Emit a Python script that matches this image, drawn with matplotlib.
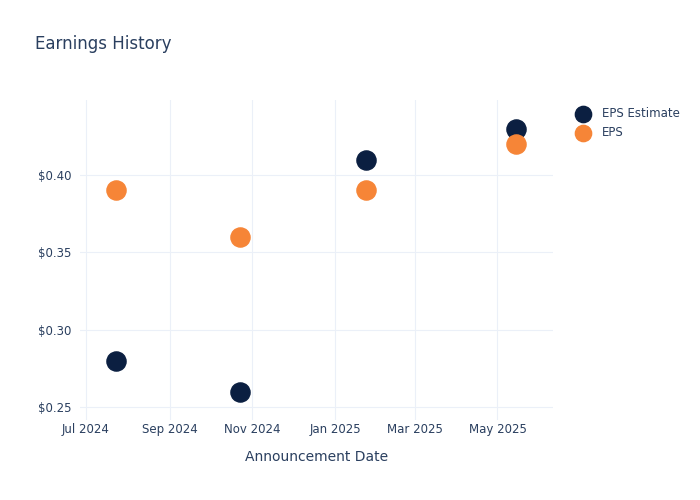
import matplotlib
matplotlib.use("Agg")
import matplotlib.pyplot as plt
import matplotlib.dates as mdates
from matplotlib.ticker import FuncFormatter
import pandas as pd

dates = pd.to_datetime(["2024-07-23", "2024-10-23", "2025-01-24", "2025-05-15"])
eps_estimate = [0.28, 0.26, 0.41, 0.43]
eps_actual = [0.39, 0.36, 0.39, 0.42]

text_color = "#2a3f5f"
grid_color = "#ebf0f8"
navy = "#0b1f41"
orange = "#f68537"

plt.rcParams["font.family"] = ["DejaVu Sans"]

fig = plt.figure(figsize=(7, 5), dpi=100)
ax = fig.add_axes([0.114, 0.16, 0.676, 0.64])

ax.scatter(dates, eps_estimate, s=190, color=navy, label="EPS Estimate", zorder=3)
ax.scatter(dates, eps_actual, s=190, color=orange, label="EPS", zorder=3)

ax.set_xlim(pd.Timestamp("2024-06-26 12:00"), pd.Timestamp("2025-06-11"))
ax.set_ylim(0.2416, 0.4485)
ax.set_yticks([0.25, 0.30, 0.35, 0.40])
ax.yaxis.set_major_formatter(FuncFormatter(lambda v, p: f"${v:.2f}"))
ax.xaxis.set_major_locator(mdates.MonthLocator(bymonth=[1, 3, 5, 7, 9, 11]))
ax.xaxis.set_major_formatter(mdates.DateFormatter("%b %Y"))

ax.grid(True, color=grid_color, linewidth=0.8)
ax.set_axisbelow(True)
for s in ax.spines.values():
    s.set_visible(False)
ax.tick_params(length=0, colors=text_color, labelsize=8.5)
ax.tick_params(axis="x", pad=2)
ax.tick_params(axis="y", pad=6)

ax.set_xlabel("Announcement Date", color=text_color, fontsize=10, labelpad=10)
fig.text(0.05, 1 - 44 / 500, "Earnings History", color=text_color, fontsize=12, va="center")

leg = ax.legend(loc="upper left", bbox_to_anchor=(1.017, 1.01), frameon=False,
                fontsize=8.5, handletextpad=0.55, labelspacing=0.5, markerscale=0.85)
for t in leg.get_texts():
    t.set_color(text_color)

fig.savefig("out.png", dpi=100, facecolor="white")
